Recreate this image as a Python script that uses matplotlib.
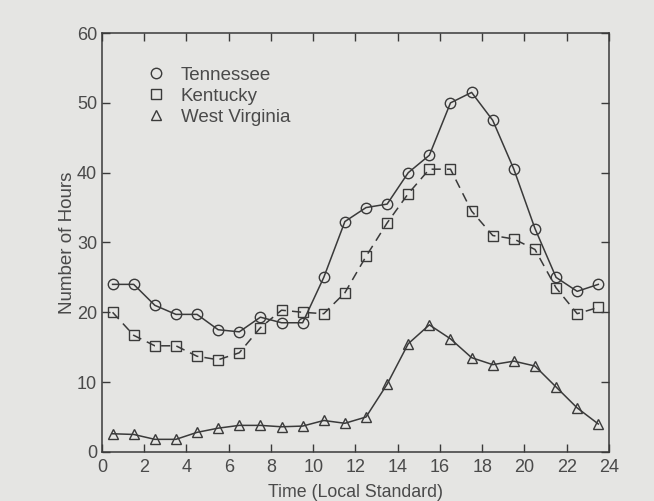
import numpy as np
import matplotlib.pyplot as plt
from matplotlib.lines import Line2D

plt.rcParams["font.family"] = ["Liberation Sans", "DejaVu Sans"]

hours = np.arange(0.5, 24, 1.0)

tennessee = [24, 24, 21, 19.7, 19.7, 17.5, 17.2, 19.3, 18.5, 18.5, 25, 33,
             35, 35.5, 40, 42.5, 50, 51.5, 47.5, 40.5, 32, 25, 23, 24]
kentucky = [20, 16.7, 15.2, 15.2, 13.7, 13.2, 14.2, 17.8, 20.3, 20, 19.8, 22.8,
            28, 32.8, 37, 40.5, 40.5, 34.5, 31, 30.5, 29, 23.5, 19.8, 20.7]
west_virginia = [2.6, 2.5, 1.8, 1.8, 2.8, 3.4, 3.8, 3.8, 3.6, 3.7, 4.5, 4.1,
                 5, 9.7, 15.5, 18.2, 16.2, 13.5, 12.5, 13, 12.3, 9.3, 6.3, 4]

labels = ["Tennessee", "Kentucky", "West Virginia"]
ink = "#3a3a3a"
txt = "#4a4a4a"
bg = "#e5e5e3"

fig = plt.figure(figsize=(6.54, 5.01), dpi=100, facecolor=bg)
ax = fig.add_axes([0.156, 0.098, 0.775, 0.836], facecolor=bg)

kw = dict(color=ink, lw=1.1, markersize=7.5, markerfacecolor="none",
          markeredgecolor=ink, markeredgewidth=1.0)
ax.plot(hours, tennessee, "o-", **kw)
ax.plot(hours, kentucky, "s--", dashes=(6, 4), **kw)
ax.plot(hours, west_virginia, "^-", **kw)

ax.set_xlim(0, 24)
ax.set_ylim(0, 60)
ax.set_xticks(range(0, 25, 2))
ax.set_yticks(range(0, 61, 10))
ax.tick_params(direction="in", length=6, width=1, color=ink, labelcolor=txt,
               labelsize=13, top=True, right=True)
ax.tick_params(axis="x", pad=5)
for s in ax.spines.values():
    s.set_color(ink)
    s.set_linewidth(1.1)

ax.set_xlabel("Time (Local Standard)", fontsize=12.8, color=txt, labelpad=6)
ax.set_ylabel("Number of Hours", fontsize=13.5, color=txt, labelpad=1)

handles = [Line2D([], [], marker=m, ls="none", markersize=7.5, markerfacecolor="none",
                  markeredgecolor=ink, markeredgewidth=1.0) for m in ["o", "s", "^"]]
leg = ax.legend(handles, labels, loc="upper left", bbox_to_anchor=(0.055, 0.96),
                frameon=False, fontsize=13.5, handletextpad=0.8, labelspacing=0.2,
                handlelength=1.0)
for t in leg.get_texts():
    t.set_color(txt)

fig.savefig("out.png", dpi=100, facecolor=bg)
